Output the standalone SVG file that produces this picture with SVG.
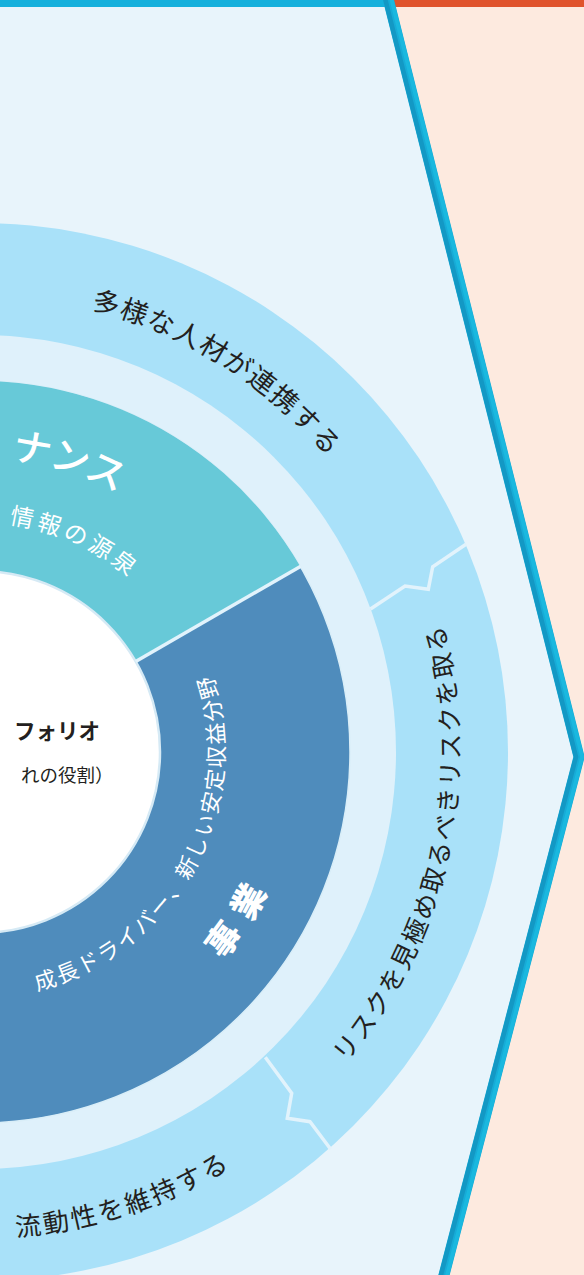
<svg xmlns="http://www.w3.org/2000/svg" width="584" height="1275" viewBox="0 0 584 1275">
  <style>
    .jp { font-family: "Noto Sans CJK JP", "Noto Sans", sans-serif; }
    .dark { fill: #231f20; }
    .white { fill: #ffffff; }
    .divider { fill: none; stroke: #e2f3fc; stroke-width: 3.5; stroke-linejoin: miter; }
    .border { fill: none; stroke-linejoin: miter; stroke-miterlimit: 10; }
  </style>
  <defs>
    <path id="arc-outer-top" d="M -165.2 305.7 A 469 469 0 0 1 443.5 687.5"/>
    <path id="arc-outer-right" d="M 120.8 1199.05 A 469 469 0 0 0 295.2 405.7"/>
    <path id="arc-outer-bottom" d="M -273.2 1153.3 A 474 474 0 0 0 418.0 930.7"/>
    <path id="arc-nance" d="M -232.1 523.6 A 311 311 0 0 1 282.3 683.4"/>
    <path id="arc-info" d="M -160.2 556.5 A 240 240 0 0 1 217.9 729.2"/>
    <path id="arc-biz-sub" d="M -77.8 980.6 A 235.5 235.5 0 0 0 142.4 582.4"/>
    <path id="arc-biz" d="M 72.4 1042.9 A 305.5 305.5 0 0 0 281.7 710.5"/>
  </defs>

  <g id="background">
    <rect x="0" y="0" width="584" height="1275" fill="#e8f4fb"/>
    <polygon points="388.5,0 584,0 584,1275 444,1275 579,757" fill="#fdeadf"/>
  </g>

  <g id="ring-outer">
    <circle cx="-21" cy="752" r="529" fill="#a9e1f9"/>
    <circle cx="-21" cy="752" r="417" fill="#dff1fb"/>
  </g>

  <g id="ring-inner">
    <circle id="segment-business" cx="-21" cy="752" r="371" fill="#4f8cbc" stroke="#d9eef8" stroke-width="1.5"/>
    <path id="segment-governance" d="M -21 752 L 300.3 566.5 A 371 371 0 0 0 -392 752 Z" fill="#67c9d8"/>
  </g>

  <g id="center">
    <circle cx="-21" cy="752" r="181" fill="#ffffff" stroke="#d6eaf5" stroke-width="2.5"/>
    <text class="jp dark" x="14" y="739" font-size="21.5" font-weight="700">フォリオ</text>
    <text class="jp dark" x="21" y="782" font-size="18.5">れの役割）</text>
  </g>

  <g id="connectors">
    <line class="divider" x1="135.7" y1="661.5" x2="300.8" y2="566.2" stroke-width="3"/>
    <polyline class="divider" points="370.5,609 405,586 428.3,589.3 432.7,566.7 466,544.3"/>
    <polyline class="divider" points="265.3,1057.3 291.7,1093.3 287.3,1118.3 310,1121.7 330.7,1149.3"/>
  </g>

  <g id="label-outer-top">
    <text class="jp dark" font-size="27" letter-spacing="2.3" dominant-baseline="central"><textPath href="#arc-outer-top" startOffset="50%" text-anchor="middle">多様な人材が連携する</textPath></text>
  </g>
  <g id="label-outer-right">
    <text class="jp dark" font-size="25.5" letter-spacing="1.4" dominant-baseline="central"><textPath href="#arc-outer-right" startOffset="50%" text-anchor="middle">リスクを見極め取るべきリスクを取る</textPath></text>
  </g>
  <g id="label-outer-bottom">
    <text class="jp dark" font-size="26" letter-spacing="1.9" dominant-baseline="central"><textPath href="#arc-outer-bottom" startOffset="50%" text-anchor="middle">流動性を維持する</textPath></text>
  </g>
  <g id="label-governance">
    <text class="jp white" font-size="39" font-weight="500" letter-spacing="0.4" dominant-baseline="central"><textPath href="#arc-nance" startOffset="50%" text-anchor="middle">ナンス</textPath></text>
    <text class="jp white" font-size="23.5" letter-spacing="4.8" dominant-baseline="central"><textPath href="#arc-info" startOffset="50%" text-anchor="middle">情報の源泉</textPath></text>
  </g>
  <g id="label-business">
    <text class="jp white" font-size="22" letter-spacing="1" dominant-baseline="central"><textPath href="#arc-biz-sub" startOffset="50%" text-anchor="middle">成長ドライバー、新しい安定収益分野</textPath></text>
    <text class="jp white" font-size="34" font-weight="900" letter-spacing="11" dominant-baseline="central"><textPath href="#arc-biz" startOffset="50%" text-anchor="middle">事業</textPath></text>
  </g>

  <g id="frame">
    <rect x="0" y="0" width="392" height="7" fill="#15b0dc"/>
    <rect x="392" y="0" width="192" height="7" fill="#e0532c"/>
    <polyline class="border" points="387.2,-5 579,757 442.7,1280" stroke="#17abd6" stroke-width="11"/>
    <polyline class="border" points="384.2,-5 576,757 439.7,1280" stroke="#1398c4" stroke-width="4.5"/>
    <polyline class="border" points="390.4,-5 582.2,757 445.9,1280" stroke="#1ab8df" stroke-width="4"/>
  </g>
</svg>
